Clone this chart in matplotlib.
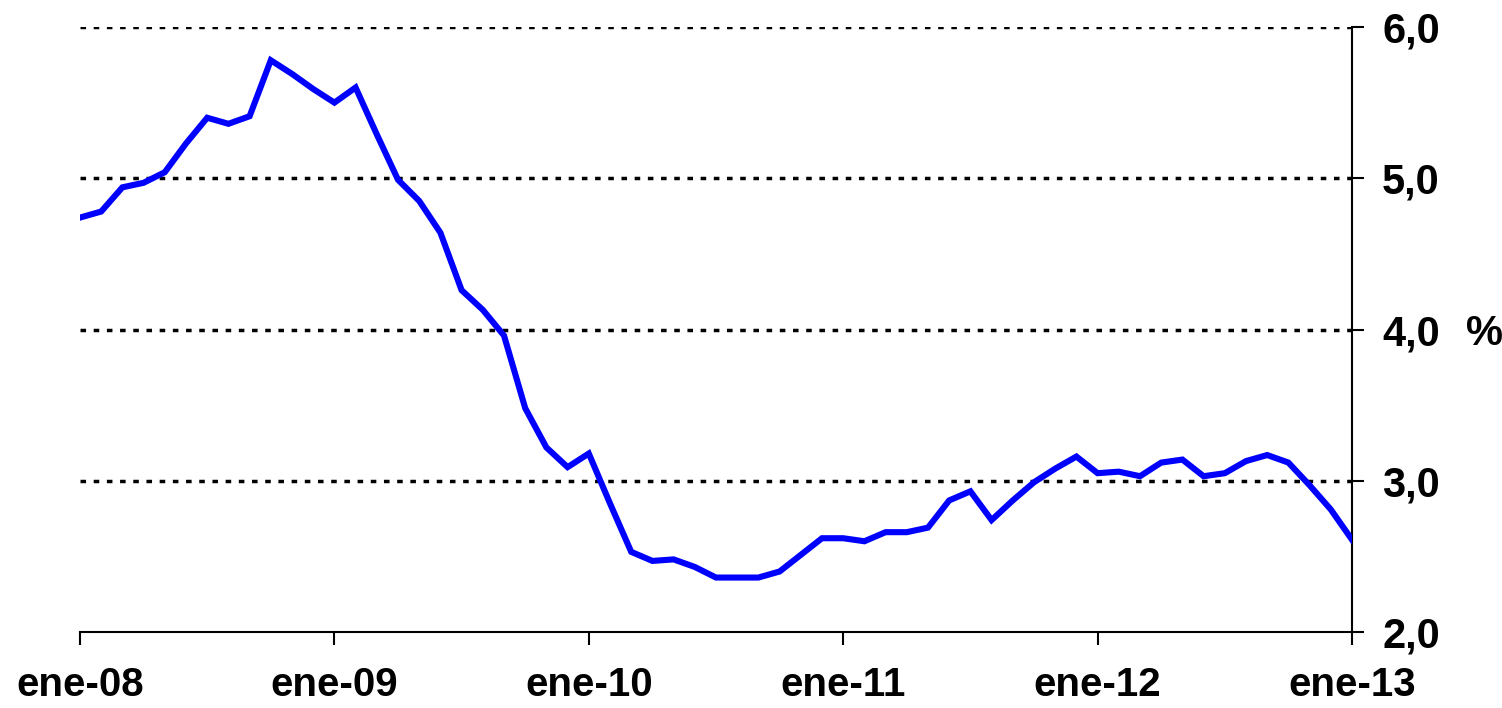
import matplotlib
matplotlib.use('Agg')
import matplotlib.pyplot as plt
import numpy as np

plt.rcParams['font.family'] = ['Liberation Sans', 'DejaVu Sans']

# tasa mensual, ene-08 .. ene-13
valores = [4.74, 4.78, 4.94, 4.97, 5.04, 5.23, 5.40, 5.36, 5.41, 5.78,
           5.69, 5.59, 5.50, 5.60, 5.29, 4.99, 4.85, 4.64, 4.26, 4.13,
           3.96, 3.48, 3.22, 3.09, 3.18, 2.85, 2.53, 2.47, 2.48, 2.43,
           2.36, 2.36, 2.36, 2.40, 2.51, 2.62, 2.62, 2.60, 2.66, 2.66,
           2.69, 2.87, 2.93, 2.74, 2.87, 2.99, 3.08, 3.16, 3.05, 3.06,
           3.03, 3.12, 3.14, 3.03, 3.05, 3.13, 3.17, 3.12, 2.97, 2.81,
           2.61]
etiquetas_x = ['ene-08', 'ene-09', 'ene-10', 'ene-11', 'ene-12', 'ene-13']
ticks_y = [2.0, 3.0, 4.0, 5.0, 6.0]
lineas_grid = [3.0, 4.0, 5.0, 6.0]

meses = np.arange(len(valores))

fig = plt.figure(figsize=(15.02, 7.08), dpi=100)
ax = fig.add_axes([80/1502, 1 - 632/708, 1272/1502, 605/708])

for g in lineas_grid:
    ax.axhline(g, color='black', lw=2.5, linestyle=(0, (1.6, 2.2)), zorder=1)

ax.plot(meses, valores, color='#0000FF', lw=4.4, solid_joinstyle='miter', zorder=3)

ax.set_xlim(0, 60)
ax.set_ylim(2, 6)

ax.set_xticks(np.arange(0, 61, 12))
ax.set_xticklabels(etiquetas_x)
ax.set_yticks(ticks_y)
ax.set_yticklabels([f'{v:.1f}'.replace('.', ',') for v in ticks_y])

ax.yaxis.tick_right()
for s in ['top', 'left']:
    ax.spines[s].set_visible(False)
for s in ['right', 'bottom']:
    ax.spines[s].set_linewidth(1.5)

ax.tick_params(axis='x', direction='out', length=9.5, width=1.5, pad=15,
               labelsize=29)
ax.tick_params(axis='y', direction='out', length=8.6, width=1.5, pad=13,
               labelsize=30)
for lab in ax.get_xticklabels() + ax.get_yticklabels():
    lab.set_fontweight('bold')

ax.text(1 + (1466 - 1352) / 1272, 0.492, '%', transform=ax.transAxes,
        ha='left', va='center', fontsize=30, fontweight='bold')

fig.savefig('out.png', dpi=100)
